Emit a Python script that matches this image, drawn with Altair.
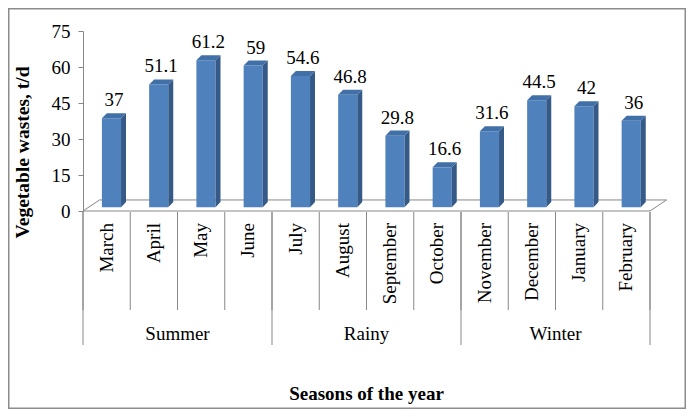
import altair as alt
import pandas as pd

# ---- data ----
MONTHS = ["March", "April", "May", "June", "July", "August",
          "September", "October", "November", "December", "January", "February"]
SEASONS = ["Summer", "Rainy", "Winter"]
MONTHS_PER_SEASON = 4
VALUES = [37, 51.1, 61.2, 59, 54.6, 46.8, 29.8, 16.6, 31.6, 44.5, 42, 36]
Y_TICKS = [0, 15, 30, 45, 60, 75]

# ---- style / geometry (in data units of the scales) ----
FONT = "Times New Roman, Liberation Serif, serif"
FRONT = "#4F81BD"
SIDE = "#355A87"
TOP = "#416FA8"
GRID = "#878787"
BASE = 1.6        # bar base sits a little inside the 3D floor
DEPTH_Y = 2.1     # vertical depth of bar (3D)
X0, X1, X2, SH = 0.40, 0.805, 0.91, 0.105
FLOOR_DX, FLOOR_DY = 0.35, 4.6

W, H = 567, 180
PAD_L, PAD_T = 75, 23
TOTAL_W, TOTAL_H = 678, 401

n = len(MONTHS)
xscale = alt.Scale(domain=[0, n], nice=False, zero=False)
yscale = alt.Scale(domain=[0, 75], nice=False)

bars = pd.DataFrame({"month": MONTHS, "i": range(n), "v": VALUES})
bars["x0"] = bars.i + X0
bars["x1"] = bars.i + X1
bars["y0"] = BASE
bars["y1"] = bars.v + BASE
bars["lx"] = bars.i + (X0 + X2) / 2
bars["ly"] = bars.v + BASE + DEPTH_Y
bars["label"] = [f"{v:g}" for v in VALUES]

side_rows, top_rows = [], []
for i, v in enumerate(VALUES):
    t = v + BASE
    side_rows += [
        {"m": i, "x": i + X1, "y": t, "y2": BASE},
        {"m": i, "x": i + X2, "y": t + DEPTH_Y, "y2": BASE + DEPTH_Y},
    ]
    top_rows += [
        {"m": i, "x": i + X0, "y": t, "y2": t},
        {"m": i, "x": i + X0 + SH, "y": t + DEPTH_Y, "y2": t},
        {"m": i, "x": i + X1, "y": t + DEPTH_Y, "y2": t},
        {"m": i, "x": i + X2, "y": t + DEPTH_Y, "y2": t + DEPTH_Y},
    ]
side = pd.DataFrame(side_rows)
top = pd.DataFrame(top_rows)

floor = pd.DataFrame({
    "x": [0, FLOOR_DX, n + FLOOR_DX, n, 0],
    "y": [0, FLOOR_DY, FLOOR_DY, 0, 0],
    "o": [0, 1, 2, 3, 4],
})

month_lines = pd.DataFrame({"x": list(range(n + 1))})
season_lines = pd.DataFrame({"x": list(range(0, n + 1, MONTHS_PER_SEASON))})
season_lab = pd.DataFrame({
    "season": SEASONS,
    "x": [MONTHS_PER_SEASON * k + MONTHS_PER_SEASON / 2 for k in range(len(SEASONS))],
})
month_lab = pd.DataFrame({"month": MONTHS, "x": [i + 0.5 for i in range(n)]})

y_axis = alt.Axis(
    values=Y_TICKS, grid=False, domainColor=GRID, tickColor=GRID, tickSize=5,
    labelPadding=8, labelFont=FONT, labelFontSize=19, labelColor="black",
    labelOverlap=False, labelFlush=False,
    title="Vegetable wastes, t/d", titleFont=FONT, titleFontSize=19.5,
    titleFontWeight="bold", titleColor="black", titleAngle=270,
    titleX=-61, titleY=121, titleAlign="center", titleBaseline="middle",
)


def X(f):
    return alt.X(f, type="quantitative", scale=xscale, axis=None)


def Y(f):
    return alt.Y(f, type="quantitative", scale=yscale, axis=y_axis)


floor_l = alt.Chart(floor).mark_line(color=GRID, strokeWidth=1).encode(
    x=X("x"), y=Y("y"), order="o:Q")

front_l = alt.Chart(bars).mark_rect(color=FRONT).encode(
    x=X("x0"), x2="x1", y=Y("y0"), y2="y1")

side_l = alt.Chart(side).mark_area(color=SIDE).encode(
    x=X("x"), y=Y("y"), y2="y2", detail="m:N")

top_l = alt.Chart(top).mark_area(color=TOP).encode(
    x=X("x"), y=Y("y"), y2="y2", detail="m:N")

val_l = alt.Chart(bars).mark_text(
    font=FONT, fontSize=19, color="black", baseline="alphabetic", dy=-7
).encode(x=X("lx"), y=Y("ly"), text="label:N")

mline_l = alt.Chart(month_lines).mark_rule(color=GRID, strokeWidth=1).encode(
    x=X("x"), y=alt.value(H + 1), y2=alt.value(H + 99))
sline_l = alt.Chart(season_lines).mark_rule(color=GRID, strokeWidth=1).encode(
    x=X("x"), y=alt.value(H + 1), y2=alt.value(H + 134))

mlab_l = alt.Chart(month_lab).mark_text(
    font=FONT, fontSize=19, color="black", angle=270, align="right", baseline="middle"
).encode(x=X("x"), y=alt.value(H + 12), text="month:N")

slab_l = alt.Chart(season_lab).mark_text(
    font=FONT, fontSize=19, color="black", align="center", baseline="alphabetic"
).encode(x=X("x"), y=alt.value(H + 129), text="season:N")

xtitle_l = alt.Chart(pd.DataFrame({"t": ["Seasons of the year"]})).mark_text(
    font=FONT, fontSize=19, fontWeight="bold", color="black",
    align="center", baseline="alphabetic"
).encode(x=alt.value(W / 2), y=alt.value(H + 189), text="t:N")

border_l = alt.Chart(pd.DataFrame({"a": [0]})).mark_rect(
    filled=False, stroke="#8C8C8C", strokeWidth=1.5
).encode(
    x=alt.value(-PAD_L + 0.75), x2=alt.value(TOTAL_W - PAD_L - 0.75),
    y=alt.value(-PAD_T + 0.75), y2=alt.value(TOTAL_H - PAD_T - 0.75))

chart = alt.layer(
    floor_l, front_l, side_l, top_l, val_l,
    border_l, mline_l, sline_l, mlab_l, slab_l, xtitle_l
).properties(
    width=W, height=H,
    autosize=alt.AutoSizeParams(type="none"),
    padding={"left": PAD_L, "top": PAD_T,
             "right": TOTAL_W - PAD_L - W, "bottom": TOTAL_H - PAD_T - H},
).configure(
    font=FONT, background="white", view=alt.ViewConfig(stroke=None)
)

chart.save("out.html", embed_options={"renderer": "svg", "actions": False})
